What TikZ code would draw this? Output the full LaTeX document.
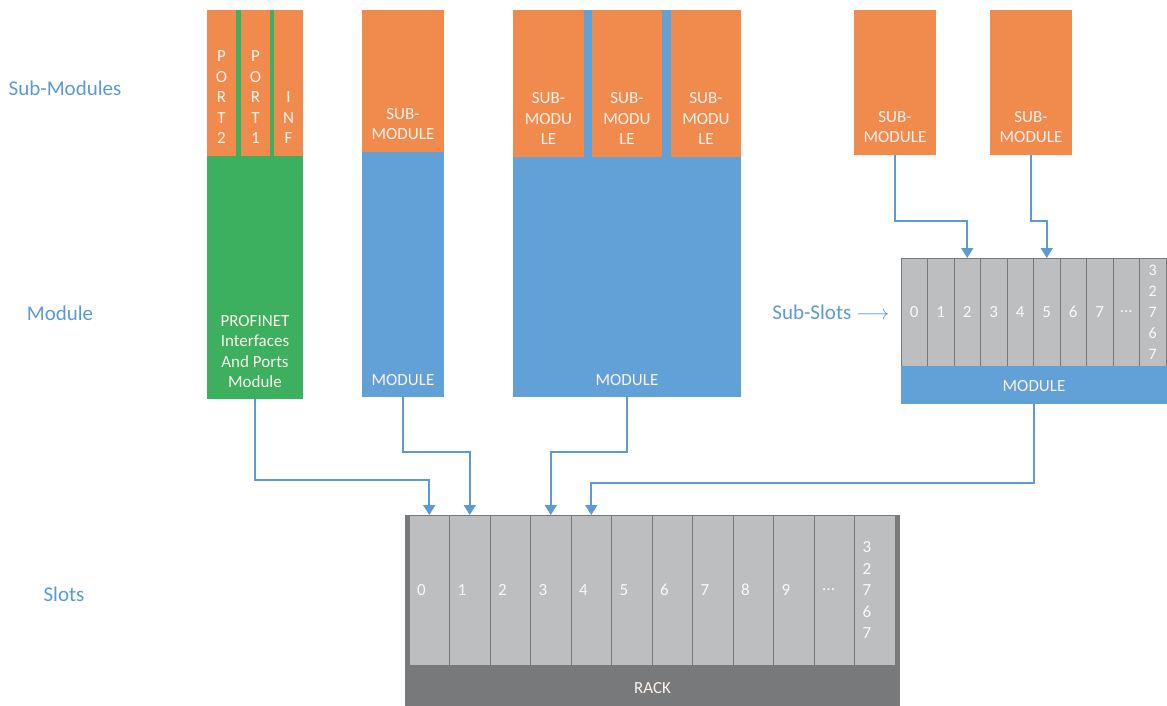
\documentclass[tikz,border=0pt]{standalone}
\usepackage{fontspec}
\setmainfont{Carlito}
\usetikzlibrary{arrows.meta,positioning,calc}
\definecolor{orng}{HTML}{F18B4D}
\definecolor{modblue}{HTML}{62A0D8}
\definecolor{pngreen}{HTML}{3CB05F}
\definecolor{slotgray}{HTML}{BDBEBF}
\definecolor{rackgray}{HTML}{77797B}
\definecolor{linkblue}{HTML}{5B9BD5}
\definecolor{lighttext}{HTML}{FBF3EC}
\tikzset{>=Latex,blk/.style={anchor=north west,inner sep=0pt,outer sep=0pt},intxt/.style={font=\fontsize{17}{20.5}\selectfont,text=lighttext,align=center,inner sep=2pt},sidelbl/.style={font=\fontsize{21}{24}\selectfont,text=linkblue},slotbox/.style={blk,fill=slotgray,draw=rackgray,line width=1pt,minimum width=40.5pt,minimum height=150pt},subslotbox/.style={blk,fill=slotgray,draw=rackgray,line width=1pt,minimum width=26.5pt,minimum height=108pt},num/.style={font=\fontsize{17}{21.5}\selectfont,text=white!90!slotgray,align=center,inner sep=2pt},conn/.style={draw=linkblue,line width=1.6pt,-{Triangle[width=12pt,length=10pt]}}}
\begin{document}
\begin{tikzpicture}[x=1pt,y=-1pt]
\fill[white] (0,0) rectangle (1167,706);
\node[sidelbl] (lblsub) at (65,88) {Sub-Modules};
\node[sidelbl] (lblmod) at (60,313) {Module};
\node[sidelbl] (lblslot) at (64,594) {Slots};
\node[blk,fill=pngreen,minimum width=96pt,minimum height=389pt] (pnmod) at (207,10) {};
\node[blk,fill=orng,minimum width=29pt,minimum height=146pt] (port2) at (207,10) {};
\node[blk,fill=orng,minimum width=29pt,minimum height=146pt] (port1) at (241,10) {};
\node[blk,fill=orng,minimum width=29pt,minimum height=146pt] (portinf) at (274,10) {};
\node[intxt,above=10pt of port2.south] {P\\O\\R\\T\\2};
\node[intxt,above=10pt of port1.south] {P\\O\\R\\T\\1};
\node[intxt,above=10pt of portinf.south] {I\\N\\F};
\node[intxt,above=9pt of pnmod.south] {PROFINET\\Interfaces\\And Ports\\Module};
\node[blk,fill=modblue,minimum width=82pt,minimum height=387pt] (mod2) at (362,10) {};
\node[blk,fill=orng,minimum width=82pt,minimum height=142pt] (sub2) at (362,10) {};
\node[intxt,above=10pt of sub2.south] {SUB-\\MODULE};
\node[intxt,above=9pt of mod2.south] {MODULE};
\node[blk,fill=modblue,minimum width=228pt,minimum height=387pt] (mod3) at (513,10) {};
\node[blk,fill=orng,minimum width=71pt,minimum height=147pt] (sub3a) at (513,10) {};
\node[blk,fill=orng,minimum width=70pt,minimum height=147pt] (sub3b) at (592,10) {};
\node[blk,fill=orng,minimum width=70pt,minimum height=147pt] (sub3c) at (671,10) {};
\foreach \s in {sub3a,sub3b,sub3c}{\node[intxt,above=10pt of \s.south] {SUB-\\MODU\\LE};}
\node[intxt,above=9pt of mod3.south] {MODULE};
\node[blk,fill=orng,minimum width=82pt,minimum height=145pt] (subA) at (854,10) {};
\node[blk,fill=orng,minimum width=82pt,minimum height=145pt] (subB) at (990,10) {};
\node[intxt,above=10pt of subA.south] {SUB-\\MODULE};
\node[intxt,above=10pt of subB.south] {SUB-\\MODULE};
\foreach \i in {0,...,9}{\node[subslotbox] (sslot\i) at (901+\i*26.5,258) {};}
\foreach \i in {0,...,7}{\node[num] at (sslot\i) {\i};}
\node[num] at (sslot8) {...};
\node[num,font=\fontsize{16}{21}\selectfont] at (sslot9) {3\\2\\7\\6\\7};
\node[blk,fill=modblue,minimum width=266pt,minimum height=38pt] (ssmod) at (901,366) {};
\node[intxt,above=10pt of ssmod.south] {MODULE};
\node[sidelbl,anchor=east] (lblss) at ([xshift=-8pt]sslot0.west) {Sub-Slots $\longrightarrow$};
\node[blk,fill=rackgray,minimum width=495pt,minimum height=191pt] (rack) at (405,515) {};
\foreach \i in {0,...,11}{\node[slotbox] (slot\i) at (409+\i*40.5,515) {};}
\foreach \i in {0,...,9}{\node[num,anchor=west] at ([xshift=6pt]slot\i.west) {\i};}
\node[num,anchor=west] at ([xshift=6pt]slot10.west) {...};
\node[num,anchor=west] at ([xshift=6pt]slot11.west) {3\\2\\7\\6\\7};
\node[intxt,above=10pt of rack.south] {RACK};
\draw[conn] (pnmod.south) -- (pnmod.south |- 0,480) -| (slot0.north);
\draw[conn] (mod2.south) -- (mod2.south |- 0,452) -| (slot1.north);
\draw[conn] (mod3.south) -- (mod3.south |- 0,452) -| (slot3.north);
\draw[conn] (ssmod.south) -- (ssmod.south |- 0,483) -| (slot4.north);
\draw[conn] (subA.south) -- (subA.south |- 0,221) -| (sslot2.north);
\draw[conn] (subB.south) -- (subB.south |- 0,221) -| (sslot5.north);
\end{tikzpicture}
\end{document}
